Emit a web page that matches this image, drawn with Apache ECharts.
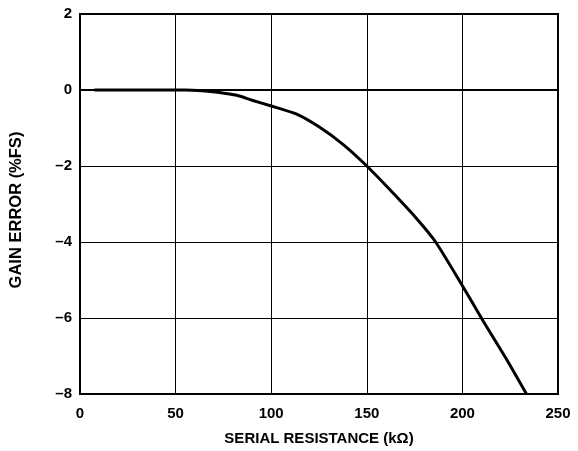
<!DOCTYPE html>
<html>
<head>
<meta charset="utf-8">
<script src="https://cdn.jsdelivr.net/npm/echarts@6/dist/echarts.min.js"></script>
<style>html,body{margin:0;padding:0;background:#fff}#c{width:578px;height:451px}</style>
</head>
<body>
<div id="c"></div>
<script>
var resistance = [7.5, 20, 40, 55, 64, 72, 82, 90, 100, 113, 125, 138, 150, 162, 176, 186, 200, 211, 223, 233.5];
var gainError = [0, 0, 0, 0, -0.02, -0.06, -0.14, -0.27, -0.42, -0.63, -0.97, -1.45, -2.0, -2.62, -3.38, -4.0, -5.15, -6.09, -7.08, -8.0];
var xTicks = [0, 50, 100, 150, 200, 250];
var yTicks = [-8, -6, -4, -2, 0, 2];

var pts = resistance.map(function (x, i) { return [x, gainError[i]]; });
function dash(v) { return String(v).replace('-', '\u2013'); }
var font = 'Liberation Sans, Arial, Helvetica, sans-serif';
var chart = echarts.init(document.getElementById('c'));
chart.setOption({
  animation: false,
  grid: { left: 80, right: 20, top: 14, bottom: 57, show: true, borderColor: '#000', borderWidth: 2, backgroundColor: 'transparent' },
  xAxis: {
    type: 'value', min: xTicks[0], max: xTicks[xTicks.length - 1], interval: 50,
    name: 'SERIAL RESISTANCE (k\u03A9)', nameLocation: 'middle', nameGap: 37,
    nameTextStyle: { fontFamily: font, fontWeight: 'bold', fontSize: 15, color: '#000' },
    axisLine: { show: true, lineStyle: { color: '#000', width: 2 } },
    axisTick: { show: false },
    axisLabel: { margin: 12, fontFamily: font, fontWeight: 'bold', fontSize: 15, color: '#000', formatter: dash },
    splitLine: { show: true, lineStyle: { color: '#000', width: 1 } }
  },
  yAxis: {
    type: 'value', min: yTicks[0], max: yTicks[yTicks.length - 1], interval: 2,
    name: 'GAIN ERROR (%FS)', nameLocation: 'middle', nameGap: 55,
    nameTextStyle: { fontFamily: font, fontWeight: 'bold', fontSize: 16.5, color: '#000', padding: [0, 12, 0, 0] },
    axisLine: { show: true, lineStyle: { color: '#000', width: 2 } },
    axisTick: { show: false },
    axisLabel: { margin: 8, fontFamily: font, fontWeight: 'bold', fontSize: 15, color: '#000', formatter: dash },
    splitLine: { show: true, lineStyle: { color: '#000', width: 1 } }
  },
  series: [{
    type: 'line', data: pts, showSymbol: false, smooth: 0.2,
    lineStyle: { color: '#000', width: 3 }
  }]
});
</script>
</body>
</html>
